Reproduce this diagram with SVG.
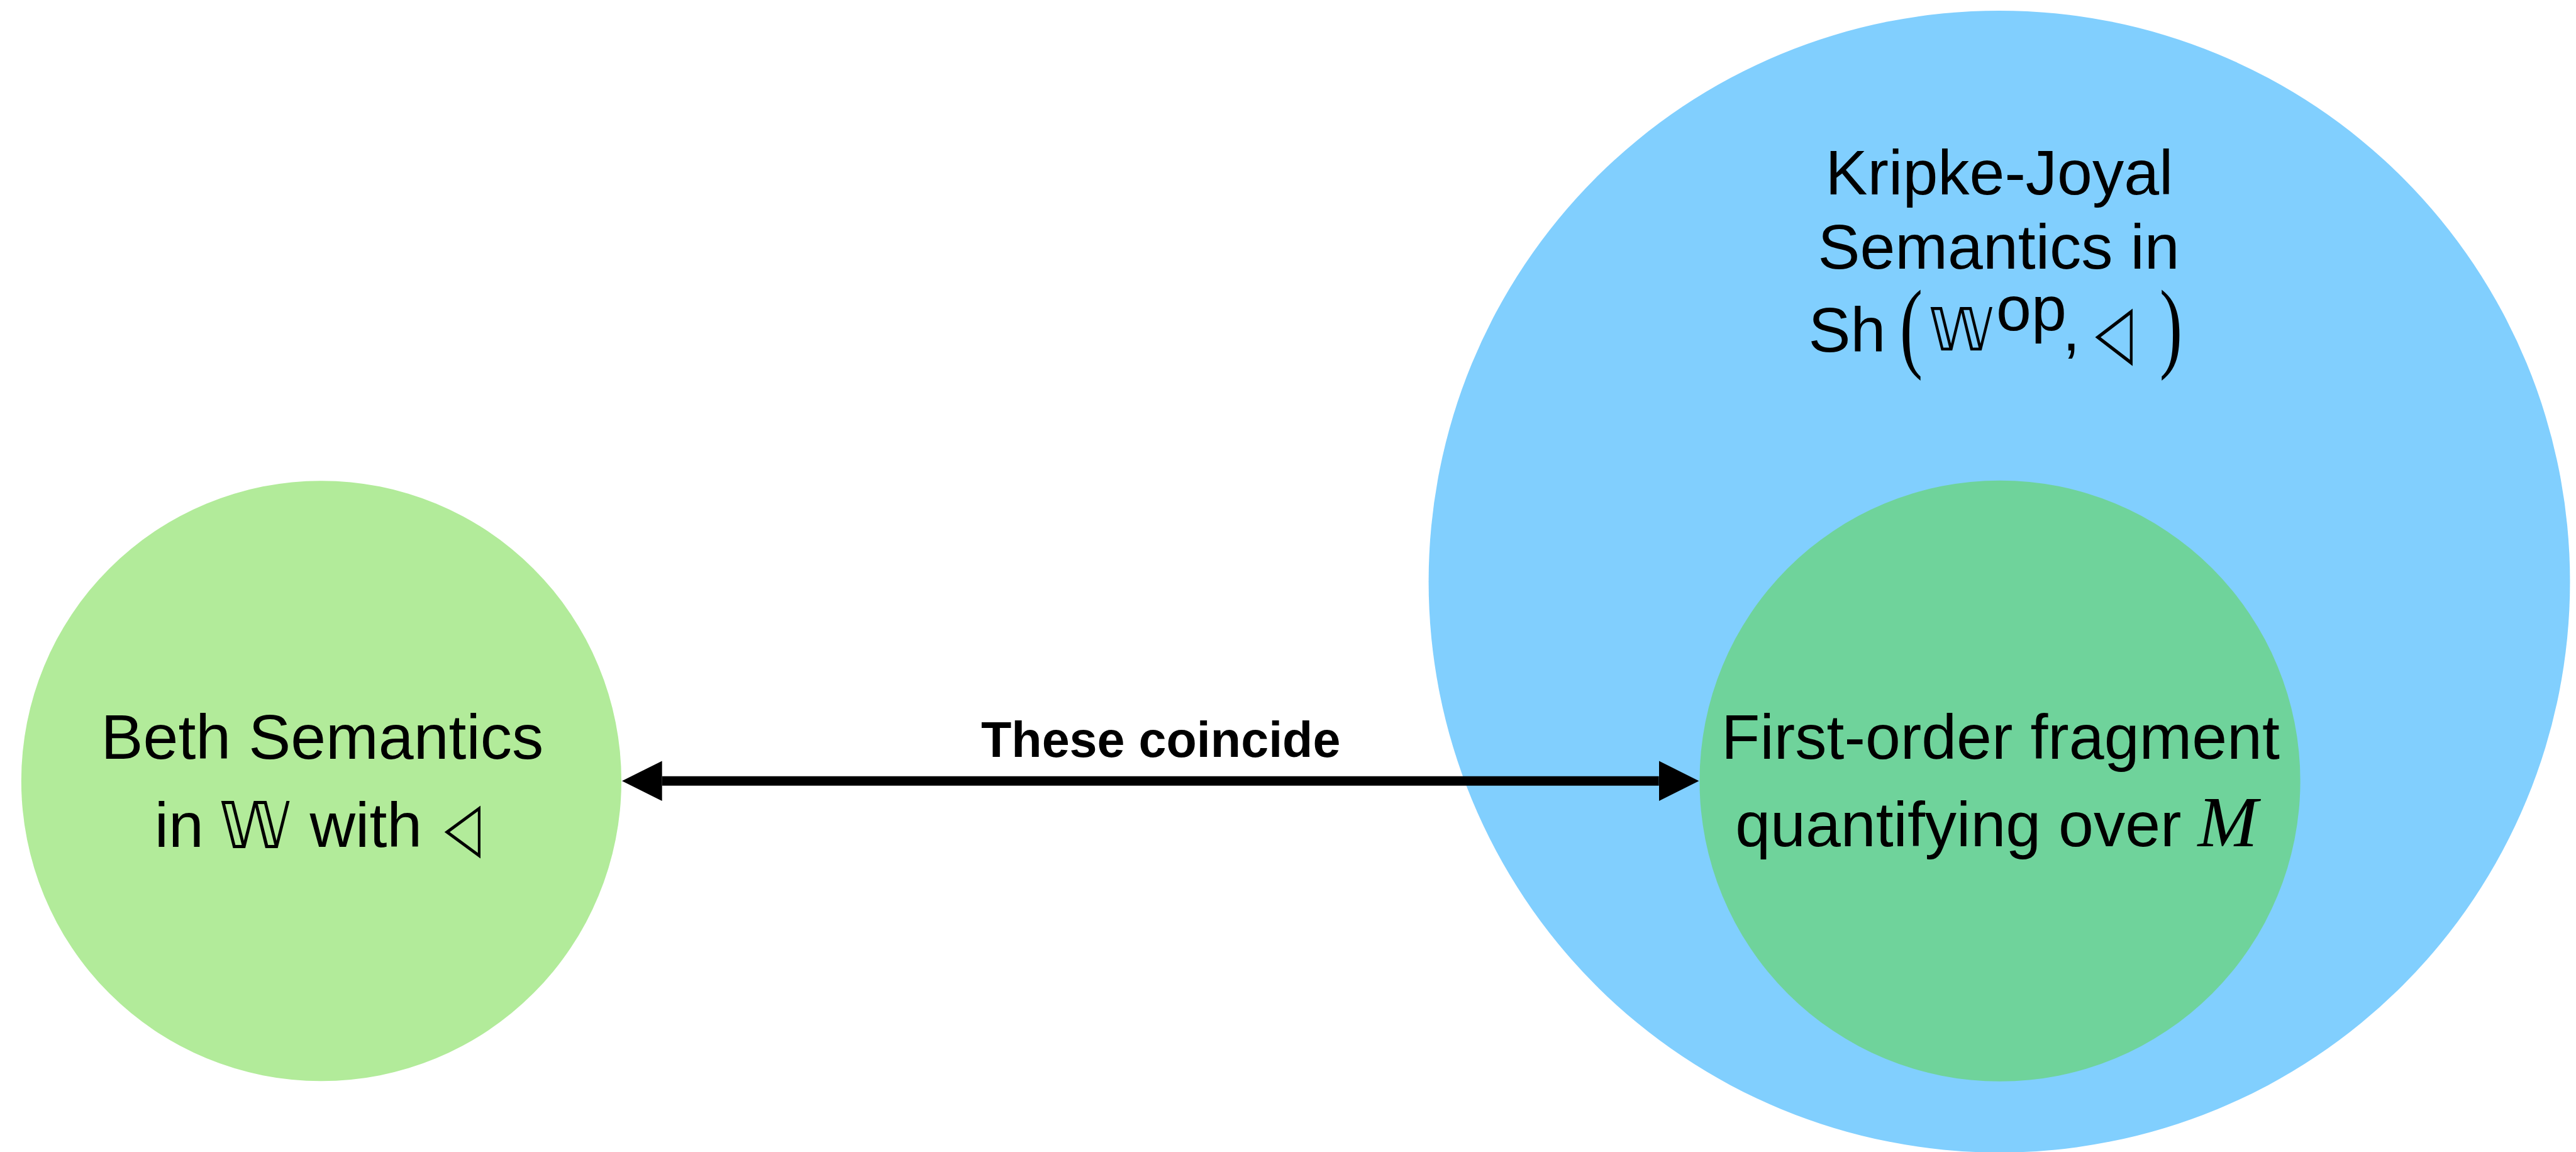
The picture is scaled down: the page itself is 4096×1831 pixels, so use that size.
<svg xmlns="http://www.w3.org/2000/svg" width="4096" height="1831" viewBox="0 0 4096 1831">
  <defs>
    <style>
      .lbl { font-family: "Liberation Sans", Arial, sans-serif; font-size: 101px; fill: #000; }
      .sym { font-family: "DejaVu Sans", "Noto Sans", sans-serif; fill: #000; }
      .ser { font-family: "Liberation Serif", "Times New Roman", serif; fill: #000; }
      .edge-label { font-family: "Liberation Sans", Arial, sans-serif; font-size: 79.5px; font-weight: bold; fill: #000; }
      .conn { stroke: #000; stroke-width: 15; fill: none; }
    </style>
    <marker id="head" markerUnits="userSpaceOnUse" markerWidth="70" markerHeight="70" viewBox="0 -35 70 70" refX="0" refY="0" orient="auto-start-reverse">
      <path d="M0,-32 L64,0 L0,32 Z" fill="#000"/>
    </marker>
  </defs>
  <rect width="4096" height="1831" fill="#fff"/>
  <g transform="scale(0.995)">
    <!-- outer sheaf-semantics region -->
    <g id="kripke-joyal">
      <circle cx="3195" cy="929" r="912" fill="#81CFFE"/>
      <text class="lbl" x="3195" y="311" text-anchor="middle">Kripke-Joyal</text>
      <text class="lbl" x="3194" y="429" text-anchor="middle">Semantics in</text>
      <text class="lbl" x="2890" y="562" font-size="90">Sh</text>
      <text class="ser" font-size="110" transform="translate(3036,573.6) scale(1,1.46)">(</text>
      <text class="sym" x="3082" y="560" font-size="94">𝕎</text>
      <text class="lbl" x="3190" y="528" font-size="85">op</text>
      <text class="lbl" x="3296" y="560" font-size="96">,</text>
      <text class="sym" font-size="98" transform="translate(3348,570) scale(0.8,1.22)">◁</text>
      <text class="ser" font-size="110" transform="translate(3451,573.6) scale(1,1.46)">)</text>
    </g>

    <!-- first-order fragment inside the sheaf semantics -->
    <g id="first-order">
      <circle cx="3196" cy="1247.5" r="480" fill="#6FD39B"/>
      <text class="lbl" x="3197" y="1212" text-anchor="middle">First-order fragment</text>
      <text class="lbl" y="1352"><tspan x="2773">quantifying over</tspan><tspan x="3512" class="ser" font-style="italic" font-size="115">M</tspan></text>
    </g>

    <!-- Beth semantics -->
    <g id="beth">
      <circle cx="513.5" cy="1247.5" r="479.5" fill="#B2EB9A"/>
      <text class="lbl" x="515" y="1212" text-anchor="middle">Beth Semantics</text>
      <text class="lbl" x="247" y="1353">in</text>
      <text class="sym" x="350" y="1355" font-size="104">𝕎</text>
      <text class="lbl" x="495" y="1353">with</text>
      <text class="sym" font-size="92" transform="translate(710,1358) scale(0.82,1.2)">◁</text>
    </g>

    <g id="connectors">
      <line class="conn" x1="1058" y1="1247.5" x2="2651" y2="1247.5" marker-start="url(#head)" marker-end="url(#head)"/>
      <text class="edge-label" x="1855" y="1209" text-anchor="middle">These coincide</text>
    </g>
  </g>
</svg>
